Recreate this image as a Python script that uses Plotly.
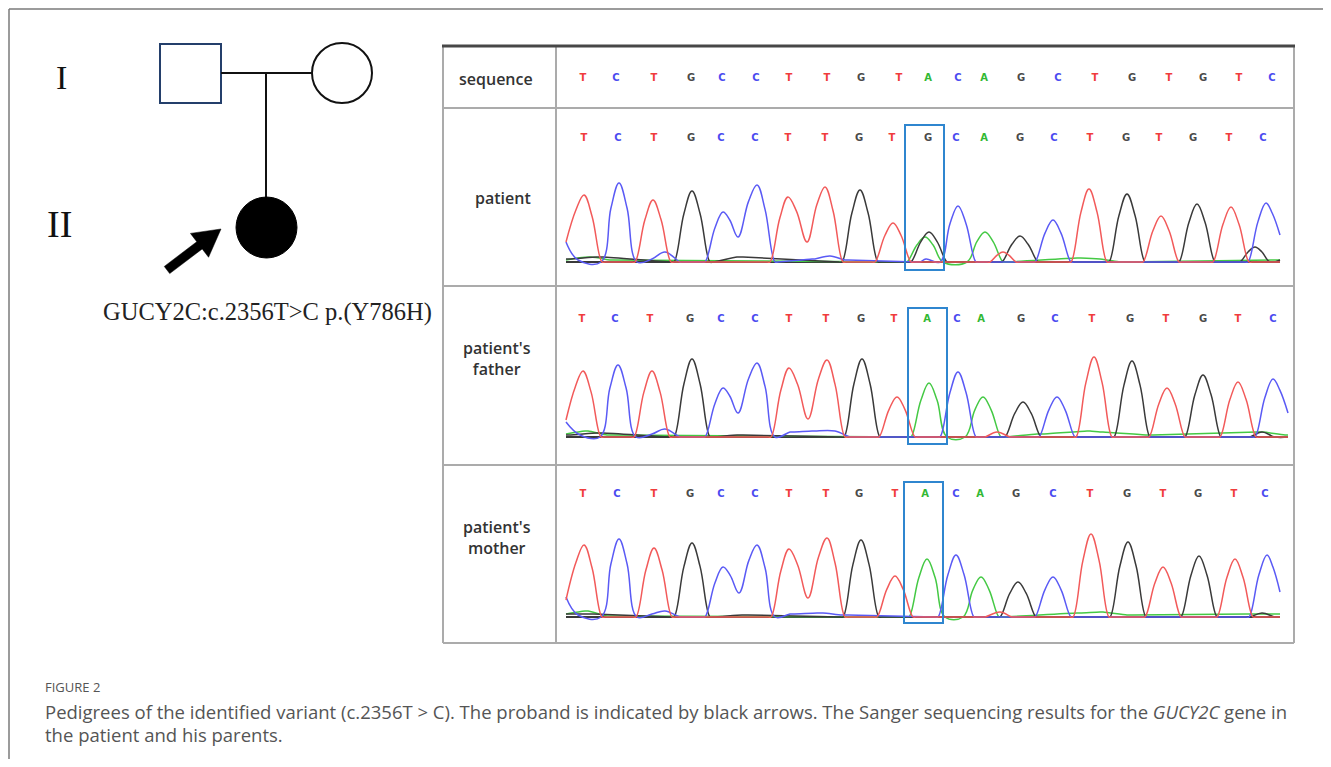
import plotly.graph_objects as go

# page geometry (the page body adds an 8px margin around the plot)
PAGE_W, PAGE_H = 1331, 767
OFF = 8
W, H = PAGE_W - 2 * OFF, PAGE_H - 2 * OFF

# ---------------- data ----------------
BASE_COLORS = {"T": "#f03c3c", "C": "#4b4bf0", "G": "#4a4a4a", "A": "#33b833"}
TRACE_COLORS = {"T": "#f25a5a", "C": "#5a5af5", "G": "#3a3a3a", "A": "#44c944"}

SEQ_REF = list("TCTGCCTTGTACAGCTGTGTC")
SEQ_PATIENT = list("TCTGCCTTGTGCAGCTGTGTC")
SEQ_FATHER = list("TCTGCCTTGTACAGCTGTGTC")
SEQ_MOTHER = list("TCTGCCTTGTACAGCTGTGTC")

POS_REF = [583, 616, 654, 691, 722, 756, 789, 827, 861, 899, 928, 958, 984, 1021, 1058, 1095, 1132, 1169, 1203, 1239, 1272]
POS_PATIENT = [584, 618, 654, 691, 721, 755, 788, 825, 859, 892, 928, 956, 984, 1020, 1054, 1090, 1126, 1159, 1193, 1229, 1263]
POS_FATHER = [582, 615, 650, 690, 721, 755, 789, 826, 861, 894, 927, 957, 981, 1021, 1055, 1092, 1130, 1166, 1203, 1238, 1273]
POS_MOTHER = [583, 617, 654, 690, 721, 755, 789, 826, 859, 895, 925, 956, 980, 1016, 1053, 1090, 1127, 1163, 1198, 1234, 1265]

# chromatogram vertices: (scan position, signal intensity)
PATIENT_T = [(566, 20), (584, 67), (602, 0), (635, 0), (653, 62), (671, 0), (770, 0), (788, 65), (807, 20), (825, 75),
             (843, 0), (875, 0), (893, 39), (911, 0), (990, 0), (1003, 10), (1016, 0), (1071, 0), (1089, 73), (1107, 0),
             (1143, 0), (1161, 46), (1179, 0), (1213, 0), (1231, 55), (1249, 0), (1280, 0)]
PATIENT_C = [(566, 20), (578, 2), (601, 0), (619, 79), (637, 0), (652, 3), (665, 10), (680, 0), (705, 0), (723, 50),
             (738, 25), (757, 77), (775, 0), (815, 3), (830, 6), (845, 2), (920, 0), (926, 3), (940, 0), (958, 56),
             (976, 0), (1035, 0), (1053, 42), (1071, 0), (1248, 0), (1266, 59), (1280, 27)]
PATIENT_G = [(566, 3), (600, 5), (674, 0), (692, 71), (710, 0), (740, 5), (842, 0), (860, 72), (878, 0), (911, 0),
             (929, 30), (947, 0), (1002, 0), (1020, 26), (1038, 0), (1109, 0), (1127, 68), (1145, 0), (1179, 0),
             (1197, 58), (1215, 0), (1240, 0), (1255, 15), (1270, 0), (1280, 2)]
PATIENT_A = [(566, 2), (590, 5), (610, 2), (907, 0), (925, 25), (943, 0), (967, 0), (985, 30), (1003, 0),
             (1080, 4), (1100, 3), (1120, 0), (1280, 2)]

FATHER_T = [(566, 17), (583, 66), (601, 0), (634, 0), (652, 66), (670, 0), (771, 0), (789, 69), (808, 18), (827, 77),
            (845, 0), (879, 0), (897, 40), (915, 0), (985, 0), (997, 5), (1010, 0), (1076, 0), (1094, 80), (1112, 0),
            (1149, 0), (1167, 49), (1185, 0), (1220, 0), (1238, 55), (1256, 0), (1288, 0)]
FATHER_C = [(566, 15), (580, 2), (600, 0), (618, 72), (636, 0), (652, 3), (665, 8), (680, 0), (705, 0), (723, 49),
            (738, 24), (757, 74), (775, 0), (790, 5), (815, 6), (835, 6), (850, 0), (940, 0), (958, 65), (976, 0),
            (1039, 0), (1057, 40), (1075, 0), (1255, 0), (1273, 58), (1288, 24)]
FATHER_G = [(566, 2), (600, 4), (674, 0), (692, 78), (710, 0), (740, 2), (844, 0), (862, 78), (880, 0), (1005, 0),
            (1023, 35), (1041, 0), (1114, 0), (1132, 76), (1150, 0), (1185, 0), (1203, 62), (1221, 0), (1250, 0),
            (1262, 5), (1275, 0), (1288, 0)]
FATHER_A = [(566, 3), (585, 6), (610, 2), (911, 0), (929, 54), (947, 0), (965, 0), (983, 40), (1001, 0),
            (1040, 3), (1090, 6), (1100, 5), (1150, 2), (1260, 5), (1288, 2)]

MOTHER_T = [(566, 17), (584, 72), (602, 0), (636, 0), (654, 69), (672, 0), (771, 0), (789, 68), (808, 19), (827, 79),
            (845, 0), (877, 0), (895, 41), (913, 0), (985, 0), (1000, 5), (1012, 0), (1073, 0), (1091, 83), (1109, 0),
            (1145, 0), (1163, 50), (1181, 0), (1217, 0), (1235, 58), (1253, 0), (1280, 0)]
MOTHER_C = [(566, 20), (578, 2), (601, 0), (619, 78), (637, 0), (652, 3), (665, 6), (680, 0), (705, 0), (723, 50),
            (739, 24), (757, 72), (775, 0), (790, 3), (820, 4), (845, 2), (938, 0), (956, 62), (974, 0), (1035, 0),
            (1053, 40), (1071, 0), (1249, 0), (1267, 62), (1280, 25)]
MOTHER_G = [(566, 3), (590, 3), (674, 0), (692, 74), (710, 0), (745, 2), (843, 0), (861, 77), (879, 0), (1000, 0),
            (1018, 35), (1036, 0), (1110, 0), (1128, 75), (1146, 0), (1181, 0), (1199, 61), (1217, 0), (1250, 0),
            (1262, 4), (1275, 0), (1280, 0)]
MOTHER_A = [(566, 3), (585, 6), (610, 1), (909, 0), (927, 58), (945, 0), (963, 0), (981, 40), (999, 0),
            (1080, 4), (1100, 5), (1130, 2), (1250, 3), (1280, 3)]

# variant highlight boxes (scan range, intensity range)
BOX_PATIENT = (905, 944, -8, 137)
BOX_FATHER = (908, 947, -7, 129)
BOX_MOTHER = (904, 943, -6, 135)

ROW_LABELS = ["sequence", "patient", "patient's<br>father", "patient's<br>mother"]

# ---------------- layout helpers ----------------
def px(x):
    return (x - OFF) / W


def py(y):
    return 1 - (y - OFF) / H


fig = go.Figure()
layout_axes = {}

# panel pixel boxes: x0, x1, y0, y1, baseline(px)
PANELS = [
    (557, 1294, 47, 108, 108),   # sequence row
    (557, 1294, 108, 286, 262),  # patient
    (557, 1294, 286, 465, 437),  # father
    (557, 1294, 465, 643, 617),  # mother
]

for i, (x0, x1, y0, y1, b) in enumerate(PANELS):
    n = "" if i == 0 else str(i + 1)
    layout_axes["xaxis" + n] = dict(domain=[px(x0), px(x1)], range=[x0, x1], visible=False,
                                     fixedrange=True, anchor="y" + n)
    layout_axes["yaxis" + n] = dict(domain=[py(y1), py(y0)], range=[b - y1, b - y0], visible=False,
                                     fixedrange=True, anchor="x" + n)


def add_letters(seq, pos, ax, yval):
    fig.add_trace(go.Scatter(
        x=pos, y=[yval] * len(seq), text=seq, mode="text", xaxis="x" + ax, yaxis="y" + ax,
        textfont=dict(family="DejaVu Sans", size=10, weight="bold",
                      color=[BASE_COLORS[s] for s in seq]),
        hoverinfo="skip", showlegend=False))


# peak-profile styling used when drawing the vertices as a smooth trace
SHOULDER_POS, SHOULDER_LEVEL, FLAT_GAP, FLAT_ANCHOR = 0.45, 0.68, 24, 3


def render_points(verts):
    """Turn read vertices into a smooth chromatogram line: peaks get bell-shaped
    shoulders, long baseline stretches get short anchors so they stay flat."""
    out = []
    n = len(verts)
    for i, (x, y) in enumerate(verts):
        if 0 < i < n - 1:
            (xl, yl), (xr, yr) = verts[i - 1], verts[i + 1]
            is_peak = y > yl and y > yr and y - max(yl, yr) > 8
        else:
            is_peak = False
        if i > 0 and x - verts[i - 1][0] > FLAT_GAP:
            out.append((x - FLAT_ANCHOR, y))
        if is_peak:
            out.append((x - SHOULDER_POS * (x - xl), yl + SHOULDER_LEVEL * (y - yl)))
        out.append((x, y))
        if is_peak:
            out.append((x + SHOULDER_POS * (xr - x), yr + SHOULDER_LEVEL * (y - yr)))
        if i < n - 1 and verts[i + 1][0] - x > FLAT_GAP:
            out.append((x + FLAT_ANCHOR, y))
    return [p[0] for p in out], [p[1] for p in out]


def add_trace(verts, base, ax):
    xs, ys = render_points(verts)
    fig.add_trace(go.Scatter(
        x=xs, y=ys, mode="lines",
        line=dict(color=TRACE_COLORS[base], width=1.5, shape="spline", smoothing=1.1),
        xaxis="x" + ax, yaxis="y" + ax, hoverinfo="skip", showlegend=False))


def add_baseline(xs, ax):
    fig.add_trace(go.Scatter(
        x=xs, y=[0, 0], mode="lines", line=dict(color="#3a3a3a", width=1.8),
        xaxis="x" + ax, yaxis="y" + ax, hoverinfo="skip", showlegend=False))


# sequence row letters
add_letters(SEQ_REF, POS_REF, "", 108 - 78)

samples = [
    ("2", SEQ_PATIENT, POS_PATIENT, 262 - 138, [PATIENT_A, PATIENT_G, PATIENT_C, PATIENT_T], BOX_PATIENT, 1280),
    ("3", SEQ_FATHER, POS_FATHER, 437 - 319, [FATHER_A, FATHER_G, FATHER_C, FATHER_T], BOX_FATHER, 1288),
    ("4", SEQ_MOTHER, POS_MOTHER, 617 - 494, [MOTHER_A, MOTHER_G, MOTHER_C, MOTHER_T], BOX_MOTHER, 1280),
]
shapes = []
for ax, seq, pos, ly, chans, box, xend in samples:
    add_baseline([566, xend], ax)
    for verts, base in zip(chans, ["A", "G", "C", "T"]):
        add_trace(verts, base, ax)
    add_letters(seq, pos, ax, ly)
    shapes.append(dict(type="rect", xref="x" + ax, yref="y" + ax, x0=box[0], x1=box[1], y0=box[2], y1=box[3],
                       line=dict(color="#2f86cf", width=2), fillcolor="rgba(0,0,0,0)"))

# ---------------- table grid ----------------
GRID = "#ababab"


def pline(x0, y0, x1, y1, color, width):
    shapes.append(dict(type="line", xref="paper", yref="paper", x0=px(x0), y0=py(y0), x1=px(x1), y1=py(y1),
                       line=dict(color=color, width=width)))


pline(443, 643, 1294, 643, GRID, 2)
pline(443, 46, 443, 643, GRID, 2)
pline(1294, 46, 1294, 643, GRID, 2)
pline(556, 46, 556, 643, GRID, 2)
for yy in [108, 286, 465]:
    pline(443, yy, 1294, yy, GRID, 2)
pline(442, 46, 1295, 46, "#474747", 3)

# outer frame
pline(9, 9, 1331, 9, "#7a7a7a", 1.5)
pline(9, 9, 9, 767, "#7a7a7a", 1.5)

# ---------------- pedigree ----------------
shapes.append(dict(type="rect", xref="paper", yref="paper", x0=px(160), x1=px(221), y0=py(103), y1=py(44),
                   line=dict(color="#243f6b", width=2)))
shapes.append(dict(type="circle", xref="paper", yref="paper", x0=px(312), x1=px(372), y0=py(103), y1=py(43),
                   line=dict(color="#111", width=2)))
pline(221, 73, 312, 73, "#111", 2)
pline(266, 73, 266, 198, "#111", 2)
shapes.append(dict(type="circle", xref="paper", yref="paper", x0=px(236), x1=px(297), y0=py(258), y1=py(197),
                   line=dict(color="#000", width=1), fillcolor="#000"))

# arrow polygon (tail -> tip)
tail, tip = (167, 270), (221, 229)
dx, dy = tip[0] - tail[0], tip[1] - tail[1]
L = (dx ** 2 + dy ** 2) ** 0.5
ux, uy = dx / L, dy / L
nx, ny = -uy, ux
hl, hw, sw = 27, 15, 4.5
neck = (tip[0] - ux * hl, tip[1] - uy * hl)
pts = [
    (tail[0] + nx * sw, tail[1] + ny * sw),
    (neck[0] + nx * sw, neck[1] + ny * sw),
    (neck[0] + nx * hw, neck[1] + ny * hw),
    tip,
    (neck[0] - nx * hw, neck[1] - ny * hw),
    (neck[0] - nx * sw, neck[1] - ny * sw),
    (tail[0] - nx * sw, tail[1] - ny * sw),
]
path = "M " + " L ".join(f"{px(a):.5f},{py(b):.5f}" for a, b in pts) + " Z"
shapes.append(dict(type="path", xref="paper", yref="paper", path=path, fillcolor="#000",
                   line=dict(color="#000", width=0.5)))

annotations = []


def ann(x, y, text, size, color, family, xanchor="center", weight="normal"):
    annotations.append(dict(x=px(x), y=py(y), xref="paper", yref="paper", text=text, showarrow=False,
                            xanchor=xanchor, yanchor="middle",
                            font=dict(size=size, color=color, family=family, weight=weight)))


ann(61, 77, "I", 34, "#111", "Liberation Serif")
ann(60, 224, "II", 38, "#111", "Liberation Serif")
ann(267, 312, "GUCY2C:c.2356T>C p.(Y786H)", 24.5, "#222", "Liberation Serif")

# table row labels
label_pos = [(496, 79), (503, 198), (497, 359), (497, 537)]
for t, (x, y) in zip(ROW_LABELS, label_pos):
    ann(x, y, t, 16, "#333", "Open Sans", weight=600)

# caption
ann(43, 687, "FIGURE 2", 13, "#555", "Open Sans", xanchor="left")
ann(43, 711, "Pedigrees of the identified variant (c.2356T > C). The proband is indicated by black arrows. "
             "The Sanger sequencing results for the <i>GUCY2C</i> gene in", 18.5, "#555", "Open Sans", xanchor="left")
ann(43, 734, "the patient and his parents.", 18.5, "#555", "Open Sans", xanchor="left")

fig.update_layout(width=W, height=H, margin=dict(l=0, r=0, t=0, b=0),
                  paper_bgcolor="white", plot_bgcolor="rgba(0,0,0,0)",
                  shapes=shapes, annotations=annotations, showlegend=False, **layout_axes)

fig.write_html("out.html")
